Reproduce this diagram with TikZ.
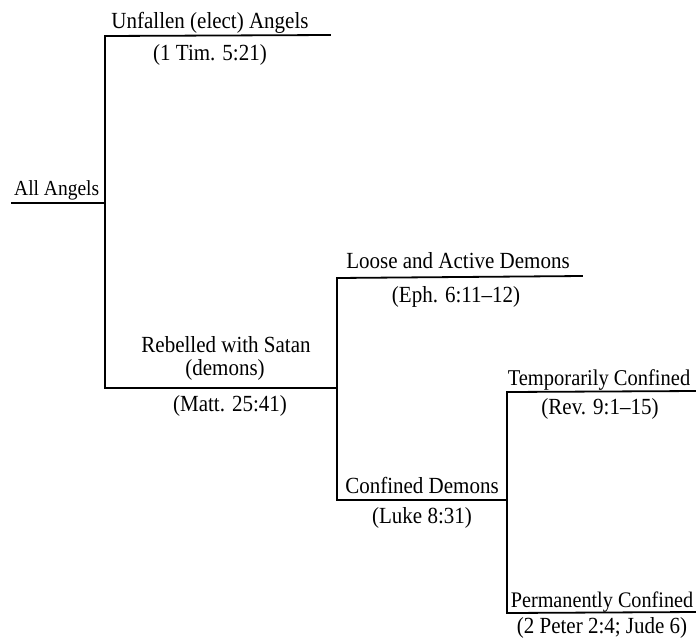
\documentclass[tikz,border=0pt]{standalone}
\usepackage{fontspec}
\setmainfont{Liberation Serif}
\newcommand{\tallt}[1]{\scalebox{1}[1.1]{#1}}
\begin{document}
\begin{tikzpicture}[x=1pt,y=-1pt,
  branch/.style={line width=1.8pt, line cap=rect},
  lbl/.style={inner sep=0pt, anchor=base, font=\fontsize{21}{25}\selectfont},
  lblw/.style={lbl, anchor=base west}]
\useasboundingbox (0,0) rectangle (696,641);
% junction coordinates
\coordinate (allL) at (12,203);
\coordinate (allR) at (105,203);
\coordinate (unfL) at (105,36);
\coordinate (unfR) at (330,35);
\coordinate (rebL) at (105,388);
\coordinate (rebR) at (337,388);
\coordinate (looL) at (337,278);
\coordinate (looR) at (582,276);
\coordinate (conL) at (337,500);
\coordinate (conR) at (507,500);
\coordinate (tmpL) at (507,392);
\coordinate (tmpR) at (696,391);
\coordinate (perL) at (507,613);
\coordinate (perR) at (696,612);
% labels
\node[lblw] (all) at (14,195) {\tallt{\fontsize{19.5}{24}\selectfont All Angels}};
\node[lbl] (unf) at (210,28) {\tallt{Unfallen (elect) Angels}};
\node[lbl] (unfref) at (210,60) {\tallt{(1 Tim. 5:21)}};
\node[lbl] (reb1) at (226,352) {\tallt{Rebelled with Satan}};
\node[lbl] (reb2) at (225,375) {\tallt{(demons)}};
\node[lbl] (rebref) at (230,411) {\tallt{(Matt. 25:41)}};
\node[lbl] (loo) at (458,268) {\tallt{Loose and Active Demons}};
\node[lbl] (looref) at (456,302) {\tallt{(Eph. 6:11–12)}};
\node[lbl] (con) at (422,493) {\tallt{Confined Demons}};
\node[lbl] (conref) at (422,523) {\tallt{(Luke 8:31)}};
\node[lbl] (tmp) at (599,385) {\tallt{\fontsize{20.5}{25}\selectfont Temporarily Confined}};
\node[lbl] (tmpref) at (600,414) {\tallt{(Rev. 9:1–15)}};
\node[lbl] (per) at (602,607) {\tallt{\fontsize{20.2}{25}\selectfont Permanently Confined}};
\node[lbl] (perref) at (602,633) {\tallt{(2 Peter 2:4; Jude 6)}};
% connectors
\draw[branch] (allL) -- (allR);
\draw[branch] (unfR) -- (unfL) -- (rebL) -- (rebR);
\draw[branch] (looR) -- (looL) -- (conL) -- (conR);
\draw[branch] (tmpR) -- (tmpL) -- (perL) -- (perR);
\end{tikzpicture}
\end{document}
